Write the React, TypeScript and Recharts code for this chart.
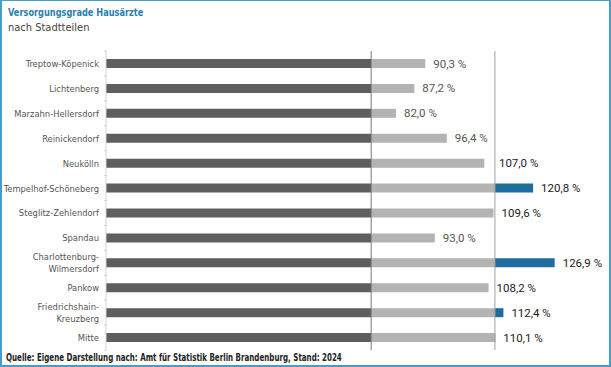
import React from 'react';
import { BarChart, Bar, XAxis, YAxis, ReferenceLine, LabelList } from 'recharts';

// Bezirke, von oben nach unten
const districts = [
  'Treptow-Köpenick',
  'Lichtenberg',
  'Marzahn-Hellersdorf',
  'Reinickendorf',
  'Neukölln',
  'Tempelhof-Schöneberg',
  'Steglitz-Zehlendorf',
  'Spandau',
  'Charlottenburg-\nWilmersdorf',
  'Pankow',
  'Friedrichshain-\nKreuzberg',
  'Mitte',
];

// Versorgungsgrad in %
const levels = [90.3, 87.2, 82.0, 96.4, 107.0, 120.8, 109.6, 93.0, 126.9, 108.2, 112.4, 110.1];

const LOWER = 75; // Grenze Unterversorgung
const UPPER = 110; // Grenze Überversorgung
const X_DOMAIN: [number, number] = [0, 140];

const WIDTH = 611;
const HEIGHT = 367;
const MARGIN = { top: 51, right: 10, bottom: 17, left: 0 };
const AXIS_W = 106;

const font = "'DejaVu Sans Condensed', 'DejaVu Sans', sans-serif";

const data = districts.map((name, i) => {
  const v = levels[i];
  return {
    name,
    value: v,
    base: Math.min(v, LOWER),
    mid: Math.max(0, Math.min(v, UPPER) - LOWER),
    over: Math.max(0, v - UPPER),
  };
});

const fmt = (v: number) => v.toFixed(1).replace('.', ',') + ' %';

const CategoryTick = (props: any) => {
  const { x, y, payload, index } = props;
  const band = (HEIGHT - MARGIN.top - MARGIN.bottom) / districts.length;
  const lines = String(payload.value).split('\n');
  const axisX = x + 9;
  return (
    <g>
      <line x1={axisX - 3} x2={axisX} y1={y - band / 2} y2={y - band / 2} stroke="#d4d4d4" />
      {index === districts.length - 1 && (
        <line x1={axisX - 3} x2={axisX} y1={y + band / 2} y2={y + band / 2} stroke="#d4d4d4" />
      )}
      <text x={x + 1} y={y} textAnchor="end" fill="#555" fontSize={9.3} fontFamily={font}>
        {lines.map((l, k) => (
          <tspan key={k} x={x + 1} dy={k === 0 ? (lines.length === 1 ? 3.5 : -2.5) : 12}>
            {l}
          </tspan>
        ))}
      </text>
    </g>
  );
};

// label sits on the light segment (present for every row); the end of the
// whole bar is found from that segment's own px-per-unit
const ValueLabel = (props: any) => {
  const { x, y, width, height, index } = props;
  const row = data[index];
  const perUnit = width / row.mid;
  const xUpper = x + (UPPER - LOWER) * perUnit;
  const end = x + width + row.over * perUnit;
  let lx = end + 8;
  // a label that would run into the 110 % line is moved past it
  if (lx < xUpper && lx + 32 > xUpper) lx = xUpper + 4;
  const fill = lx > xUpper ? '#1a1a1a' : '#555';
  return (
    <text x={lx} y={y + height / 2 + 4} fill={fill} fontSize={11.5} fontFamily="Roboto, sans-serif">
      {fmt(row.value)}
    </text>
  );
};

export default function App() {
  return (
    <div style={{ position: 'absolute', left: 0, top: 0, width: WIDTH, height: HEIGHT, background: '#fff' }}>
      <div
        style={{
          position: 'absolute',
          left: 8,
          top: 6,
          fontFamily: font,
          fontSize: 10.5,
          fontWeight: 'bold',
          color: '#2b7fb0',
          whiteSpace: 'nowrap',
          transform: 'scaleX(0.87)',
          transformOrigin: 'left top',
        }}
      >
        Versorgungsgrade Hausärzte
      </div>
      <div
        style={{
          position: 'absolute',
          left: 8,
          top: 21,
          fontFamily: font,
          fontSize: 11,
          color: '#444',
          whiteSpace: 'nowrap',
        }}
      >
        nach Stadtteilen
      </div>
      <BarChart
        width={WIDTH}
        height={HEIGHT}
        data={data}
        layout="vertical"
        margin={MARGIN}
        barSize={9}
        style={{ position: 'absolute', left: 0, top: 0 }}
      >
        <XAxis type="number" domain={X_DOMAIN} hide />
        <YAxis
          dataKey="name"
          type="category"
          width={AXIS_W}
          axisLine={{ stroke: '#d4d4d4' }}
          tickLine={false}
          tick={<CategoryTick />}
          interval={0}
        />
        <Bar dataKey="base" stackId="a" fill="#5e5e5e" isAnimationActive={false} />
        <Bar dataKey="mid" stackId="a" fill="#b3b3b3" isAnimationActive={false}>
          <LabelList dataKey="value" content={<ValueLabel />} />
        </Bar>
        <Bar dataKey="over" stackId="a" fill="#1d6e9e" isAnimationActive={false} />
        <ReferenceLine x={LOWER} stroke="#777" strokeWidth={1} />
        <ReferenceLine x={UPPER} stroke="#a0a0a0" strokeWidth={1} />
      </BarChart>
      <div
        style={{
          position: 'absolute',
          left: 6,
          top: 352,
          fontFamily: font,
          fontSize: 10,
          fontWeight: 'bold',
          color: '#222',
          whiteSpace: 'nowrap',
          transform: 'scaleX(0.79)',
          transformOrigin: 'left top',
        }}
      >
        Quelle: Eigene Darstellung nach: Amt für Statistik Berlin Brandenburg, Stand: 2024
      </div>
      <div
        style={{
          position: 'absolute',
          left: 0,
          top: 0,
          width: WIDTH,
          height: HEIGHT,
          boxSizing: 'border-box',
          borderTop: '1px solid #4a9cc8',
          borderLeft: '2px solid #4a9cc8',
          borderRight: '2px solid #4a9cc8',
          borderBottom: '2px solid #4a9cc8',
          pointerEvents: 'none',
        }}
      />
    </div>
  );
}
